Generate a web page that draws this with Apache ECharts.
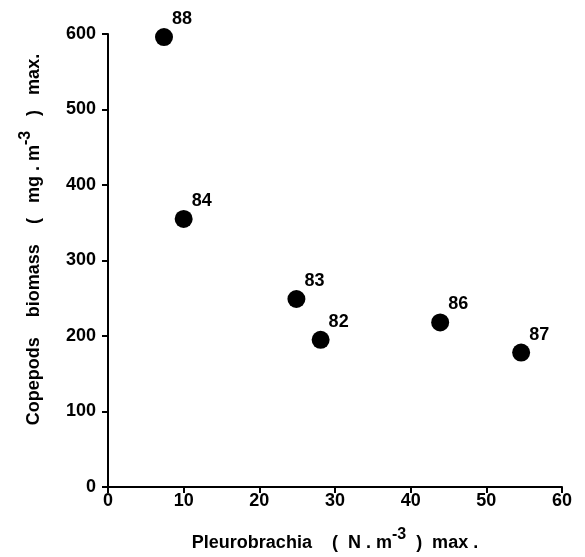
<!DOCTYPE html>
<html><head><meta charset="utf-8">
<script src="https://cdn.jsdelivr.net/npm/echarts@6/dist/echarts.min.js"></script>
<style>html,body{margin:0;padding:0;background:#fff}#c{width:585px;height:557px}</style>
</head><body><div id="c"></div>
<script>
const years = ['88','84','83','82','86','87'];
const pleurobrachia = [7.4, 10.0, 24.9, 28.1, 43.9, 54.6];
const copepods = [596, 355, 249, 195, 218, 178];
const xTicks = [0,10,20,30,40,50,60];
const yTicks = [0,100,200,300,400,500,600];

const FONT = '"Liberation Sans", Arial, sans-serif';
const data = years.map((y,i)=>({value:[pleurobrachia[i], copepods[i]], name:y}));
const rich = {
  t:{fontFamily:FONT,fontSize:18,color:'#000',fontWeight:'bold'},
  s:{fontFamily:FONT,fontSize:16,color:'#000',fontWeight:'bold',verticalAlign:'bottom',padding:[0,0,16,0]}
};
const chart = echarts.init(document.getElementById('c'));
chart.setOption({
  backgroundColor:'#fff',
  animation:false,
  grid:{left:108,right:23,top:34,bottom:70},
  xAxis:{
    type:'value', min:xTicks[0], max:xTicks[xTicks.length-1], interval:10,
    splitLine:{show:false},
    axisLine:{lineStyle:{color:'#000',width:2}},
    axisTick:{length:6,lineStyle:{color:'#000',width:2}},
    axisLabel:{color:'#000',fontFamily:FONT,fontWeight:'bold',fontSize:18,margin:5},
    name:'{t|Pleurobrachia    (  N . m}{s|-3}{t|  )  max .}',
    nameLocation:'middle', nameGap:40,
    nameTextStyle:{rich:rich}
  },
  yAxis:{
    type:'value', min:yTicks[0], max:yTicks[yTicks.length-1], interval:100,
    splitLine:{show:false},
    axisLine:{lineStyle:{color:'#000',width:2}},
    axisTick:{length:6,lineStyle:{color:'#000',width:2}},
    axisLabel:{color:'#000',fontFamily:FONT,fontWeight:'bold',fontSize:18,margin:12},
    name:'{t|Copepods    biomass    (   mg . m}{s|-3}{t|   )   max.}',
    nameLocation:'middle', nameGap:58, nameRotate:90,
    nameTextStyle:{padding:[0,0,0,42],rich:rich}
  },
  series:[{
    type:'scatter', data:data, symbolSize:18,
    itemStyle:{color:'#000',opacity:1},
    label:{show:true, formatter:p=>p.name, position:'right', offset:[-6,-18],
      color:'#000', opacity:1, fontFamily:FONT, fontWeight:'bold', fontSize:18}
  }]
});
</script></body></html>
